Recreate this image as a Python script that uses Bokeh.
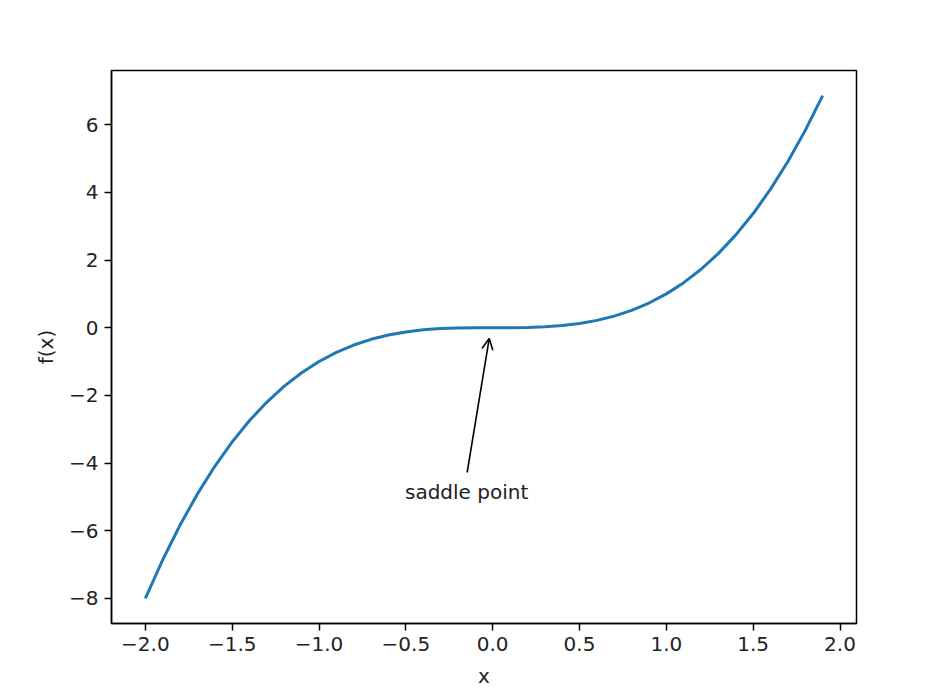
from bokeh.plotting import figure
from bokeh.models import Range1d, FixedTicker, Arrow, OpenHead, Label
from bokeh.embed import file_html
from bokeh.resources import INLINE

xs = [-2.0, -1.9, -1.8, -1.7, -1.6, -1.5, -1.4, -1.3, -1.2, -1.1,
      -1.0, -0.9, -0.8, -0.7, -0.6, -0.5, -0.4, -0.3, -0.2, -0.1,
      0.0, 0.1, 0.2, 0.3, 0.4, 0.5, 0.6, 0.7, 0.8, 0.9,
      1.0, 1.1, 1.2, 1.3, 1.4, 1.5, 1.6, 1.7, 1.8, 1.9]
ys = [-8.0, -6.859, -5.832, -4.913, -4.096, -3.375, -2.744, -2.197, -1.728, -1.331,
      -1.0, -0.729, -0.512, -0.343, -0.216, -0.125, -0.064, -0.027, -0.008, -0.001,
      0.0, 0.001, 0.008, 0.027, 0.064, 0.125, 0.216, 0.343, 0.512, 0.729,
      1.0, 1.331, 1.728, 2.197, 2.744, 3.375, 4.096, 4.913, 5.832, 6.859]

x_ticks = [-2.0, -1.5, -1.0, -0.5, 0.0, 0.5, 1.0, 1.5, 2.0]
x_tick_labels = ["−2.0", "−1.5", "−1.0", "−0.5", "0.0", "0.5", "1.0", "1.5", "2.0"]
y_ticks = [-8, -6, -4, -2, 0, 2, 4, 6]
y_tick_labels = ["−8", "−6", "−4", "−2", "0", "2", "4", "6"]

annot_text = "saddle point"
annot_xy = (-0.02, -0.32)
annot_xytext = (-0.147, -4.28)
annot_label_pos = (-0.15, -4.85)

FONT = "DejaVu Sans"
FS = "20px"

p = figure(width=932, height=690, output_backend="svg", toolbar_location=None,
           x_range=Range1d(-2.195, 2.095), y_range=Range1d(-8.743, 7.602),
           min_border_left=111, min_border_right=76, min_border_top=70, min_border_bottom=67)

p.line(xs, ys, line_color="#1f77b4", line_width=3)

p.xgrid.visible = False
p.ygrid.visible = False
p.outline_line_color = "black"
p.outline_line_width = 1.5
p.outline_line_alpha = 1
p.background_fill_color = "white"
p.border_fill_color = "white"

p.xaxis.ticker = FixedTicker(ticks=x_ticks)
p.xaxis.major_label_overrides = {t: l for t, l in zip(x_ticks, x_tick_labels)}
p.yaxis.ticker = FixedTicker(ticks=y_ticks)
p.yaxis.major_label_overrides = {t: l for t, l in zip(y_ticks, y_tick_labels)}
p.xaxis.axis_label = "x"
p.yaxis.axis_label = "f(x)"

for ax in (p.xaxis, p.yaxis):
    ax.axis_line_color = "black"
    ax.axis_line_width = 1.5
    ax.major_tick_line_color = "black"
    ax.major_tick_line_width = 1.5
    ax.major_tick_out = 7
    ax.major_tick_in = 0
    ax.minor_tick_line_color = None
    ax.major_label_text_font = FONT
    ax.major_label_text_font_size = FS
    ax.major_label_text_color = "#222222"
    ax.axis_label_text_font = FONT
    ax.axis_label_text_font_size = FS
    ax.axis_label_text_font_style = "normal"
    ax.axis_label_text_color = "#222222"
    ax.major_label_standoff = 6

p.xaxis.axis_label_standoff = 10
p.yaxis.axis_label_standoff = 8

p.add_layout(Arrow(end=OpenHead(size=11, line_color="black", line_width=1.6),
                   x_start=annot_xytext[0], y_start=annot_xytext[1],
                   x_end=annot_xy[0], y_end=annot_xy[1],
                   line_color="black", line_width=1.6))
p.add_layout(Label(x=annot_label_pos[0], y=annot_label_pos[1], text=annot_text,
                   text_align="center", text_baseline="alphabetic",
                   text_font=FONT, text_font_size=FS, text_color="#222222"))

open("out.html", "w").write(file_html(p, INLINE))
